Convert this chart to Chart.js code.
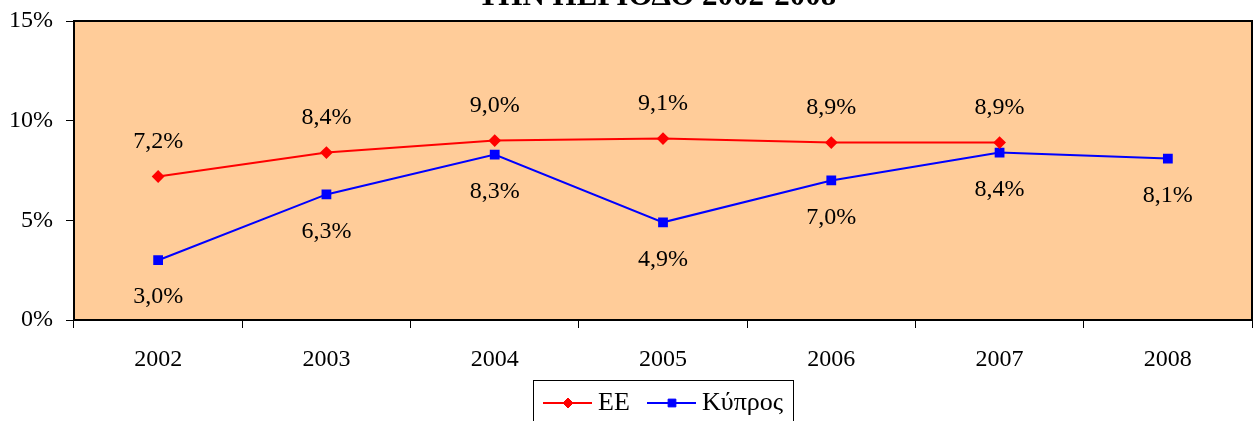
<!DOCTYPE html>
<html>
<head>
<meta charset="utf-8">
<script src="https://cdn.jsdelivr.net/npm/chart.js@4.4.1/dist/chart.umd.min.js"></script>
<style>
  html, body { margin: 0; padding: 0; background: #fff; }
  canvas { display: block; }
</style>
</head>
<body>
<canvas id="chart1" width="1253" height="421"></canvas>
<script>
// Unemployment rate, EU vs Cyprus
const years = ['2002', '2003', '2004', '2005', '2006', '2007', '2008'];
const euRates = [7.2, 8.4, 9.0, 9.1, 8.9, 8.9, null];
const cyprusRates = [3.0, 6.3, 8.3, 4.9, 7.0, 8.4, 8.1];
const yTicks = [0, 5, 10, 15];
const titleText = 'ΤΗΝ ΠΕΡΙΟΔΟ 2002-2008';

const serif = '"Liberation Serif", "Times New Roman", serif';
const plotFill = '#FFCC99';

function pct(v) {
    return v.toFixed(1).replace('.', ',') + '%';
}

// Background, plot frame, value labels, legend and title
const decorations = {
    id: 'decorations',
    beforeDraw(chart) {
        const { ctx, chartArea: a } = chart;
        ctx.save();
        ctx.fillStyle = '#fff';
        ctx.fillRect(0, 0, chart.width, chart.height);
        ctx.fillStyle = plotFill;
        ctx.fillRect(a.left, a.top, a.right - a.left, a.bottom - a.top);
        ctx.restore();
    },
    afterDraw(chart) {
        const { ctx, chartArea: a } = chart;
        ctx.save();

        // frame around the plot area
        ctx.strokeStyle = '#000';
        ctx.lineWidth = 2;
        ctx.strokeRect(a.left, a.top, a.right - a.left, a.bottom - a.top);

        // value labels: EU above the points, Cyprus below
        ctx.font = '24px ' + serif;
        ctx.fillStyle = '#000';
        ctx.textAlign = 'center';
        ctx.textBaseline = 'middle';
        chart.data.datasets.forEach((ds, i) => {
            const meta = chart.getDatasetMeta(i);
            meta.data.forEach((pt, j) => {
                const v = ds.data[j];
                if (v == null) return;
                const dy = ds.labelSide === 'above' ? -35 : 37;
                ctx.fillText(pct(v), pt.x, pt.y + dy);
            });
        });

        // legend box below the axis
        const cx = (a.left + a.right) / 2;
        const boxL = cx - 130, boxT = 380;
        ctx.lineWidth = 1;
        ctx.strokeStyle = '#000';
        ctx.strokeRect(boxL + 0.5, boxT + 0.5, 260, 60);
        const ly = 403;
        const items = [
            { ds: chart.data.datasets[0], x: boxL + 10 },
            { ds: chart.data.datasets[1], x: boxL + 114 }
        ];
        ctx.textAlign = 'left';
        ctx.font = '26px ' + serif;
        items.forEach(it => {
            ctx.strokeStyle = it.ds.borderColor;
            ctx.lineWidth = 2;
            ctx.beginPath();
            ctx.moveTo(it.x, ly);
            ctx.lineTo(it.x + 49, ly);
            ctx.stroke();
            ctx.fillStyle = it.ds.pointBackgroundColor;
            ctx.strokeStyle = it.ds.pointBorderColor;
            ctx.lineWidth = 1;
            Chart.helpers.drawPoint(ctx, {
                pointStyle: it.ds.pointStyle,
                radius: it.ds.pointRadius,
                rotation: 0,
                borderWidth: 1
            }, it.x + 25, ly);
            ctx.fillStyle = '#000';
            ctx.fillText(it.ds.label, it.x + 55, ly);
        });

        // title, last line only (top runs off the page)
        ctx.font = 'bold 31px ' + serif;
        ctx.textAlign = 'center';
        ctx.textBaseline = 'alphabetic';
        ctx.fillText(titleText, cx - 6, 5);

        ctx.restore();
    }
};

const ctx = document.getElementById('chart1').getContext('2d');
new Chart(ctx, {
    type: 'line',
    data: {
        labels: years,
        datasets: [
            {
                label: 'ΕΕ',
                data: euRates,
                borderColor: '#FF0000',
                backgroundColor: '#FF0000',
                pointBackgroundColor: '#FF0000',
                pointBorderColor: '#FF0000',
                pointStyle: 'rectRot',
                pointRadius: 5,
                borderWidth: 2,
                tension: 0,
                labelSide: 'above'
            },
            {
                label: 'Κύπρος',
                data: cyprusRates,
                borderColor: '#0000FF',
                backgroundColor: '#0000FF',
                pointBackgroundColor: '#0000FF',
                pointBorderColor: '#0000FF',
                pointStyle: 'rect',
                pointRadius: 5.5,
                borderWidth: 2,
                tension: 0,
                labelSide: 'below'
            }
        ]
    },
    options: {
        responsive: false,
        animation: false,
        devicePixelRatio: 1,
        layout: {
            autoPadding: false,
            padding: { top: 21, right: 1, left: 0, bottom: 0 }
        },
        plugins: {
            legend: { display: false },
            tooltip: { enabled: false },
            title: { display: false }
        },
        scales: {
            x: {
                offset: true,
                grid: {
                    offset: true,
                    drawOnChartArea: false,
                    drawTicks: true,
                    tickLength: 8,
                    color: '#000'
                },
                border: { display: false },
                ticks: {
                    color: '#000',
                    padding: 17,
                    maxRotation: 0,
                    font: { family: serif, size: 24 }
                },
                afterFit(scale) {
                    scale.height = 101;
                    scale.paddingLeft = 0;
                    scale.paddingRight = 0;
                }
            },
            y: {
                min: 0,
                max: 15,
                afterBuildTicks(scale) {
                    scale.ticks = yTicks.map(v => ({ value: v }));
                },
                grid: {
                    drawOnChartArea: false,
                    drawTicks: true,
                    tickLength: 8,
                    color: '#000'
                },
                border: { display: false },
                ticks: {
                    color: '#000',
                    padding: 13,
                    font: { family: serif, size: 24 },
                    callback: v => v + '%'
                },
                afterFit(scale) {
                    scale.width = 74;
                    scale.paddingTop = 0;
                    scale.paddingBottom = 0;
                }
            }
        }
    },
    plugins: [decorations]
});
</script>
</body>
</html>
